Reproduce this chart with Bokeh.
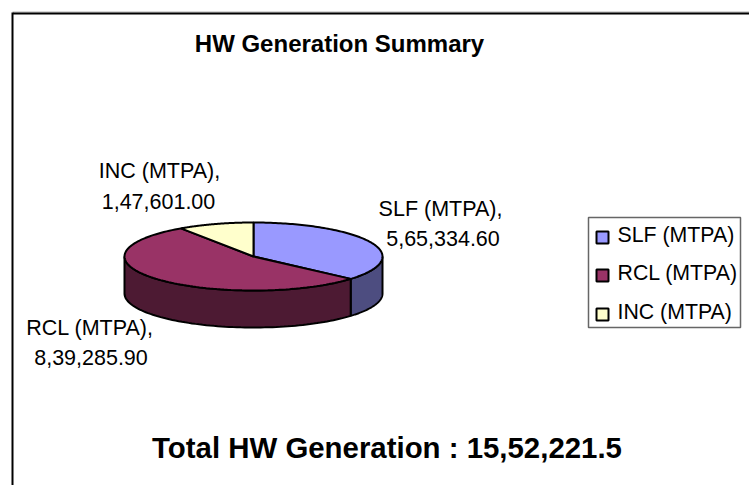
import numpy as np
from bokeh.plotting import figure
from bokeh.embed import file_html
from bokeh.resources import INLINE
from bokeh.models import Range1d
from bokeh.core.properties import value

categories = ["SLF (MTPA)", "RCL (MTPA)", "INC (MTPA)"]
values = [565334.60, 839285.90, 147601.00]
value_labels = ["5,65,334.60", "8,39,285.90", "1,47,601.00"]
top_colors = ["#9999FF", "#993366", "#FFFFCC"]
side_colors = ["#4D4D80", "#4D1A33", "#808066"]
title_text = "HW Generation Summary"
total_text = "Total HW Generation : 15,52,221.5"

W, H = 749, 485
p = figure(width=W, height=H, output_backend="svg", toolbar_location=None,
           x_range=Range1d(0, W), y_range=Range1d(H, 0),
           min_border=0, outline_line_color=None, background_fill_color="white")
p.axis.visible = False
p.grid.visible = False

# chart frame
p.line([12, 749], [11.5, 11.5], line_color="#b0b0b0", line_width=1)
p.line([12.5, 749], [13, 13], line_color="black", line_width=2)
p.line([12, 12], [12, 485], line_color="black", line_width=2)

cx, cy, rx, ry, depth = 253, 256, 129, 34, 37
fr = np.array(values) / sum(values)
edges = np.concatenate([[0], np.cumsum(fr)]) * 2 * np.pi

def pt(a, dy=0):
    return cx + rx * np.sin(a), cy - ry * np.cos(a) + dy

# side walls (front half only)
for i in range(3):
    a0, a1 = max(edges[i], np.pi / 2), min(edges[i + 1], 3 * np.pi / 2)
    if a1 <= a0:
        continue
    a = np.linspace(a0, a1, 80)
    x, y = pt(a)
    xb, yb = pt(a[::-1], depth)
    p.patch(np.r_[x, xb], np.r_[y, yb], fill_color=side_colors[i],
            line_color="black", line_width=2)

# top faces
for i in range(3):
    a = np.linspace(edges[i], edges[i + 1], 120)
    x, y = pt(a)
    p.patch(np.r_[cx, x], np.r_[cy, y], fill_color=top_colors[i],
            line_color="black", line_width=2)

FONT = "Liberation Sans"
def text(x, y, s, size, bold=False, align="center"):
    p.text([x], [y], text=[s], text_font=value(FONT), text_font_size=size,
           text_font_style="bold" if bold else "normal", text_color="black",
           text_align=align, text_baseline="middle")

text(339, 43, title_text, "24px", True)
text(386.5, 446.5, total_text, "29.4px", True)

# data labels
text(440, 208, categories[0] + ",", "21.5px")
text(442.5, 238, value_labels[0], "21.5px")
text(89.5, 327, categories[1] + ",", "21.5px")
text(90.5, 357, value_labels[1], "21.5px")
text(159, 170, categories[2] + ",", "21.5px")
text(158, 201, value_labels[2], "21.5px")

# legend
p.quad(left=[588], right=[740], top=[217], bottom=[327], fill_color="white",
       line_color="#666666", line_width=1.5)
for i, yy in enumerate([236, 274, 313]):
    p.scatter([602], [yy + 1], marker="square", size=12, fill_color=top_colors[i],
              line_color="black", line_width=2)
    text(617, yy - 2, categories[i], "21.3px", align="left")

open("out.html", "w").write(file_html(p, INLINE))
